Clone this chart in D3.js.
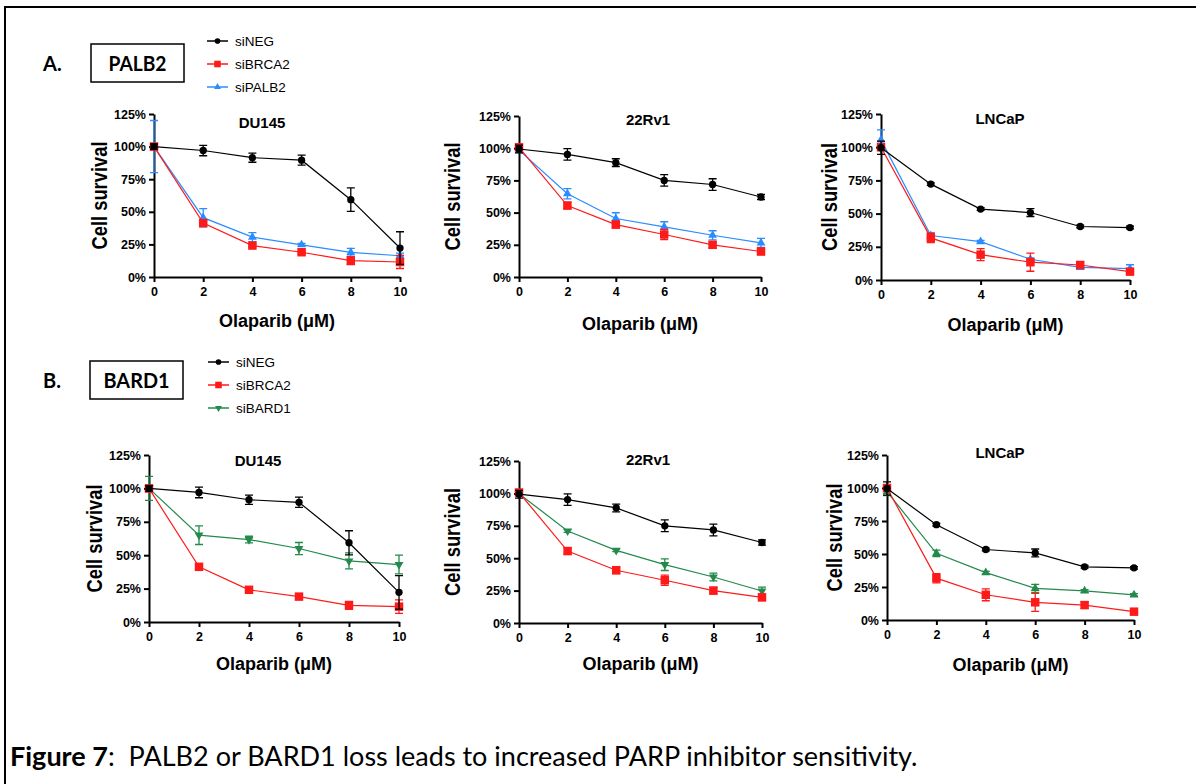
<!DOCTYPE html>
<html>
<head>
<meta charset="utf-8">
<script src="https://cdn.jsdelivr.net/npm/d3@7"></script>
<style>
  body { margin: 0; background: #fff; }
  svg { display: block; }
  .axis text { font-family: "Liberation Sans", Arial, sans-serif; font-weight: bold; font-size: 12.5px; fill: #000; }
  .axis path, .axis line { stroke: #000; stroke-width: 2px; }
</style>
</head>
<body>
<svg id="fig" width="1196" height="784"></svg>
<script>
// doses (uM) and survival ticks (%)
const doses = [0, 2, 4, 6, 8, 10];
const yTicks = [0, 25, 50, 75, 100, 125];
const cellLines = ["DU145", "22Rv1", "LNCaP"];

// mean survival (%) and error
const du145Neg = [100, 97, 91.5, 89.6, 59.3, 22.2];
const du145NegErr = [2, 4, 3.5, 3.8, 9, 12.5];
const du145Brca2 = [100, 41.3, 24.1, 19, 12.5, 11.5];
const du145Brca2Err = [2.5, 1.5, 1, 1, 3, 5];
const du145Palb2 = [100, 45.5, 30.6, 24.7, 18.9, 16.3];
const du145Palb2Err = [20, 7, 3.5, 1, 3, 2];
const du145Bard1 = [100, 65, 61.7, 55, 45.7, 43];
const du145Bard1Err = [9, 7, 2.5, 4.5, 6, 7];

const rv1Neg = [99.4, 95.2, 88.8, 75, 71.8, 62.1];
const rv1NegErr = [3, 4.5, 3, 4.5, 4.5, 2];
const rv1Brca2 = [100.7, 55.5, 40.7, 33, 25, 19.8];
const rv1Brca2Err = [2, 2.5, 2.5, 4, 2.5, 2.5];
const rv1Palb2 = [98.5, 64.6, 45.4, 38.9, 32.4, 26.5];
const rv1Palb2Err = [2, 4, 4.5, 4, 3.5, 3.5];
const rv1Bard1 = [99.8, 71, 56, 45, 35.5, 24.7];
const rv1Bard1Err = [1, 1, 1, 4.5, 3, 3];

const lncapNeg = [99.6, 72.2, 53.4, 50.8, 40.3, 39.5];
const lncapNegErr = [5, 1, 1, 3, 1, 1];
const lncapBrca2 = [100, 31.7, 19.1, 13.4, 11.3, 6.3];
const lncapBrca2Err = [2.5, 3.5, 4.5, 6.8, 2.5, 1];
const lncapPalb2 = [105.5, 33.5, 28.9, 15.6, 9.5, 8.5];
const lncapPalb2Err = [7.5, 2, 1, 1, 1, 3];
const lncapBard1 = [97.2, 50.5, 35.9, 24, 22, 19];
const lncapBard1Err = [3, 2.5, 1, 3, 1, 1];

const colNeg = "#000000", colBrca2 = "#ff1a1a", colPalb2 = "#2b8cff", colBard1 = "#238a4c";

class LineChart {

  constructor(_config, _series) {
    this.config = {
      parentElement: _config.parentElement,
      left: _config.left, right: _config.right,
      top: _config.top, bottom: _config.bottom,
      title: _config.title,
      titleX: _config.titleX, titleY: _config.titleY,
      yTitleDx: _config.yTitleDx || -47,
      xTitleDy: _config.xTitleDy || 50
    }
    this.series = _series;
    this.initVis();
  }

  initVis() {
    let vis = this;
    let c = vis.config;

    vis.svg = d3.select(c.parentElement);
    vis.chart = vis.svg.append('g');

    vis.xScale = d3.scaleLinear().domain([0, 10]).range([c.left, c.right]);
    vis.yScale = d3.scaleLinear().domain([0, 125]).range([c.bottom, c.top]);

    vis.xAxisG = d3.axisBottom(vis.xScale)
      .tickValues(doses)
      .tickSize(5).tickSizeOuter(0).tickPadding(5);

    vis.yAxisG = d3.axisLeft(vis.yScale)
      .tickValues(yTicks)
      .tickFormat(d => d + "%")
      .tickSize(5).tickSizeOuter(0).tickPadding(3);

    vis.chart.append('g')
      .attr("class", "axis")
      .attr("transform", `translate(0,${c.bottom})`)
      .call(vis.xAxisG);

    vis.chart.append('g')
      .attr("class", "axis")
      .attr("transform", `translate(${c.left},0)`)
      .call(vis.yAxisG);

    vis.chart.append("text")
      .attr("text-anchor", "middle")
      .attr("font-family", "Liberation Sans, Arial, sans-serif")
      .attr("font-weight", "bold")
      .style("font-size", "15px")
      .attr("x", c.titleX)
      .attr("y", c.titleY)
      .text(c.title);

    vis.chart.append("text")
      .attr("text-anchor", "middle")
      .attr("font-family", "Liberation Sans, Arial, sans-serif")
      .attr("font-weight", "bold")
      .style("font-size", "22px")
      .attr("textLength", 108)
      .attr("lengthAdjust", "spacingAndGlyphs")
      .attr("transform", `translate(${c.left + c.yTitleDx},${(c.top + c.bottom) / 2}) rotate(-90)`)
      .text("Cell survival");

    vis.chart.append("text")
      .attr("text-anchor", "middle")
      .attr("font-family", "Liberation Sans, Arial, sans-serif")
      .attr("font-weight", "bold")
      .style("font-size", "18px")
      .attr("x", (c.left + c.right) / 2)
      .attr("y", c.bottom + c.xTitleDy)
      .text("Olaparib (\u03bcM)");

    vis.updateVis();
  }

  updateVis() {
    let vis = this;

    vis.line = d3.line()
      .x((d, i) => vis.xScale(doses[i]))
      .y(d => vis.yScale(d));

    // first series ends up on top
    vis.groups = vis.chart.selectAll(".series")
      .data(vis.series.slice().reverse())
      .join("g")
        .attr("class", "series");

    vis.groups.append("path")
      .attr("d", d => vis.line(d.mean))
      .attr("fill", "none")
      .attr("stroke", d => d.color)
      .attr("stroke-width", 1.2);

    vis.groups.each(function(s) {
      let g = d3.select(this);
      let pts = s.mean.map((m, i) => ({ x: doses[i], m: m, e: s.err[i] }));

      g.selectAll(".err")
        .data(pts)
        .join("path")
          .attr("class", "err")
          .attr("fill", "none")
          .attr("stroke", s.color)
          .attr("stroke-width", 1.3)
          .attr("d", d => {
            let x = vis.xScale(d.x), y0 = vis.yScale(d.m - d.e), y1 = vis.yScale(d.m + d.e);
            return `M${x},${y0}V${y1}M${x - 4},${y0}H${x + 4}M${x - 4},${y1}H${x + 4}`;
          });

      g.selectAll(".dot")
        .data(pts)
        .join("path")
          .attr("class", "dot")
          .attr("fill", s.color)
          .attr("d", d3.symbol(s.symbol === "down" ? d3.symbolTriangle : s.symbol, s.size))
          .attr("transform", d => `translate(${vis.xScale(d.x)},${vis.yScale(d.m)})` + (s.symbol === "down" ? " rotate(180)" : ""));
    });
  }
}

function drawLegend(svg, x, y, items) {
  let g = svg.append("g");
  items.forEach((s, i) => {
    let yy = y + i * 23;
    g.append("line")
      .attr("x1", x).attr("x2", x + 21)
      .attr("y1", yy).attr("y2", yy)
      .attr("stroke", s.color).attr("stroke-width", 1.5);
    g.append("path")
      .attr("fill", s.color)
      .attr("d", d3.symbol(s.symbol === "down" ? d3.symbolTriangle : s.symbol, s.size * 0.6))
      .attr("transform", `translate(${x + 10.5},${yy})` + (s.symbol === "down" ? " rotate(180)" : ""));
    g.append("text")
      .attr("x", x + 28).attr("y", yy + 5)
      .attr("font-family", "Liberation Sans, Arial, sans-serif")
      .style("font-size", "13.5px")
      .text(s.name);
  });
}

const svg = d3.select("#fig");

svg.append("rect").attr("width", 1196).attr("height", 784).attr("fill", "#fff");
svg.append("path")
  .attr("d", "M5,784V7H1196")
  .attr("fill", "none").attr("stroke", "#000").attr("stroke-width", 2);

const neg = { name: "siNEG", color: colNeg, symbol: d3.symbolCircle, size: 42 };
const brca2 = { name: "siBRCA2", color: colBrca2, symbol: d3.symbolSquare, size: 72 };
const palb2 = { name: "siPALB2", color: colPalb2, symbol: d3.symbolTriangle, size: 34 };
const bard1 = { name: "siBARD1", color: colBard1, symbol: "down", size: 34 };

// section labels
function sectionLabel(letter, word, y0, boxX, wordLen) {
  svg.append("text")
    .attr("x", 43).attr("y", y0)
    .attr("font-family", "Lato, sans-serif").attr("font-weight", "bold")
    .style("font-size", "20px")
    .text(letter);
  svg.append("rect")
    .attr("x", boxX).attr("y", y0 - 27).attr("width", 93).attr("height", 38)
    .attr("fill", "none").attr("stroke", "#000").attr("stroke-width", 1.5);
  svg.append("text")
    .attr("x", boxX + 46.5).attr("y", y0)
    .attr("text-anchor", "middle")
    .attr("font-family", "Lato, sans-serif").attr("font-weight", "bold")
    .style("font-size", "20px")
    .attr("textLength", wordLen).attr("lengthAdjust", "spacingAndGlyphs")
    .text(word);
}
sectionLabel("A.", "PALB2", 71, 91, 58);
sectionLabel("B.", "BARD1", 388, 90, 66);

drawLegend(svg, 207, 41, [neg, brca2, palb2]);
drawLegend(svg, 208, 362, [neg, brca2, bard1]);

const layoutA = [
  { left: 154, right: 400, top: 114, bottom: 277, titleX: 262, titleY: 128, yTitleDx: -47, xTitleDy: 50 },
  { left: 519, right: 761, top: 116, bottom: 277, titleX: 648, titleY: 125, yTitleDx: -59, xTitleDy: 53 },
  { left: 881, right: 1130, top: 114, bottom: 280, titleX: 1000, titleY: 124, yTitleDx: -44, xTitleDy: 51 }
];
const layoutB = [
  { left: 149, right: 399, top: 455, bottom: 622, titleX: 258, titleY: 466, yTitleDx: -47, xTitleDy: 48 },
  { left: 519, right: 762, top: 461, bottom: 623, titleX: 648, titleY: 465, yTitleDx: -59, xTitleDy: 47 },
  { left: 887, right: 1134, top: 455, bottom: 620, titleX: 1000, titleY: 458, yTitleDx: -45, xTitleDy: 51 }
];

const seriesA = [
  [ {...neg, mean: du145Neg, err: du145NegErr}, {...brca2, mean: du145Brca2, err: du145Brca2Err}, {...palb2, mean: du145Palb2, err: du145Palb2Err} ],
  [ {...neg, mean: rv1Neg, err: rv1NegErr}, {...brca2, mean: rv1Brca2, err: rv1Brca2Err}, {...palb2, mean: rv1Palb2, err: rv1Palb2Err} ],
  [ {...neg, mean: lncapNeg, err: lncapNegErr}, {...brca2, mean: lncapBrca2, err: lncapBrca2Err}, {...palb2, mean: lncapPalb2, err: lncapPalb2Err} ]
];
const seriesB = [
  [ {...neg, mean: du145Neg, err: du145NegErr}, {...brca2, mean: du145Brca2, err: du145Brca2Err}, {...bard1, mean: du145Bard1, err: du145Bard1Err} ],
  [ {...neg, mean: rv1Neg, err: rv1NegErr}, {...brca2, mean: rv1Brca2, err: rv1Brca2Err}, {...bard1, mean: rv1Bard1, err: rv1Bard1Err} ],
  // LNCaP panel in B uses upward triangles
  [ {...neg, mean: lncapNeg, err: lncapNegErr}, {...brca2, mean: lncapBrca2, err: lncapBrca2Err}, {...bard1, symbol: d3.symbolTriangle, mean: lncapBard1, err: lncapBard1Err} ]
];

cellLines.forEach((name, i) => {
  new LineChart({ parentElement: "#fig", title: name, ...layoutA[i] }, seriesA[i]);
  new LineChart({ parentElement: "#fig", title: name, ...layoutB[i] }, seriesB[i]);
});

// caption
let cap = svg.append("text")
  .attr("x", 10).attr("y", 766)
  .attr("font-family", "Lato, sans-serif")
  .style("font-size", "27px");
cap.append("tspan").attr("font-weight", "bold").text("Figure 7");
cap.append("tspan").text(":\u00a0 PALB2 or BARD1 loss leads to increased PARP inhibitor sensitivity.");
let capLen = cap.node().getComputedTextLength();
cap.attr("transform", `translate(10,0) scale(${908 / capLen},1) translate(-10,0)`);
</script>
</body>
</html>
